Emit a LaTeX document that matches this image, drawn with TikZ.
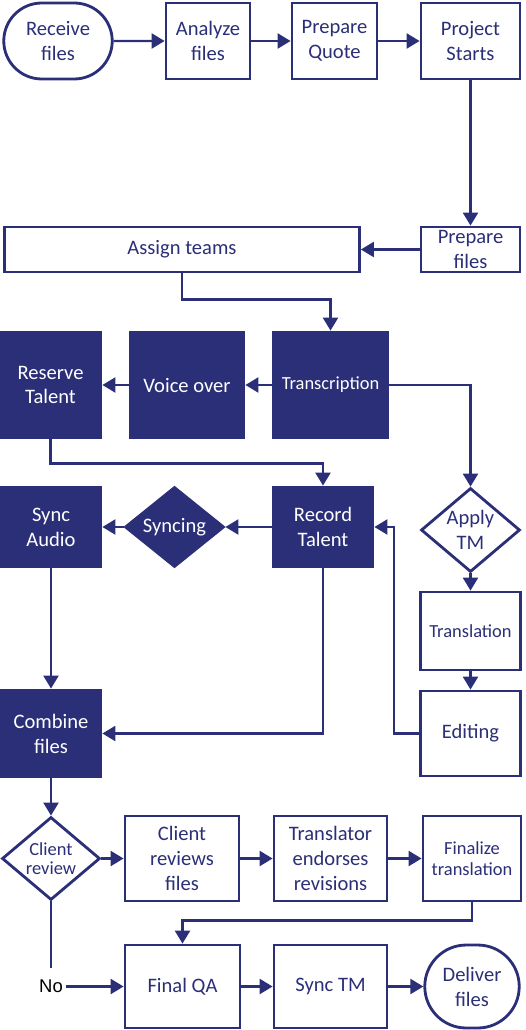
\documentclass[tikz,border=0pt]{standalone}
\usepackage{fontspec}
\setmainfont{Carlito}
\newfontfamily\nofont{Liberation Sans}
\usepackage{tikz}
\usetikzlibrary{arrows.meta,shapes.geometric,shapes.misc,calc}
\definecolor{navy}{RGB}{43,47,119}

\begin{document}
\begin{tikzpicture}
 [x=0.02cm,y=-0.02cm,->,>={Triangle[length=0.26cm,width=0.3cm]},
line width=1.3pt,navy,
box/.style={rectangle,draw=navy,fill=white,text=navy,align=center,line width=1.6pt,
inner sep=1pt,font=\fontsize{11.7}{14.2}\selectfont,minimum height=1.52cm},
term/.style={box,rounded rectangle},
dark/.style={box,fill=navy,text=white},
dec/.style={box,diamond,aspect=1.2,inner sep=0pt},
darkdec/.style={dec,fill=navy,text=white},
small/.style={font=\fontsize{10.5}{12}\selectfont}]
\useasboundingbox (0,0) rectangle (525,1030);

\node (rf) at (58,41) [term,minimum width=2.24cm] {Receive\\files};
\node (af) at (208,41) [box,minimum width=1.68cm] {Analyze\\files};
\node (pq) at (334.5,41) [box,minimum width=1.7cm] {Prepare\\Quote};
\node (ps) at (470.5,41) [box,minimum width=1.98cm] {Project\\Starts};

\node (pf) at (470.5,249.5) [box,minimum width=1.98cm,minimum height=0.9cm,inner ysep=0pt] {Prepare\\files};
\node (at) at (182,249.5) [box,minimum width=7.1cm,minimum height=0.9cm] {Assign teams};

\node (rt) at (50.5,385) [dark,minimum width=2.02cm,minimum height=2.12cm] {Reserve\\Talent};
\node (vo) at (187,385) [dark,minimum width=2.28cm,minimum height=2.12cm] {Voice over};
\node (tr) at (330.5,385) [dark,small,minimum width=2.3cm,minimum height=2.12cm] {Transcription};

\node (sa) at (51,527) [dark,minimum width=2cm,minimum height=1.6cm] {Sync\\Audio};
\node (sy) at (174.5,527) [darkdec,minimum width=1.98cm,minimum height=1.6cm] {Syncing};
\node (rec) at (323,527) [dark,minimum width=2cm,minimum height=1.6cm] {Record\\Talent};
\node (tm) at (470.5,530) [dec,minimum width=1.98cm,minimum height=1.68cm] {Apply\\TM};

\node (tl) at (470.5,631) [box,small,minimum width=2cm,minimum height=1.56cm] {Translation};
\node (ed) at (470.5,733.5) [box,minimum width=2cm,minimum height=1.7cm] {Editing};
\node (cf) at (51,733.5) [dark,minimum width=2cm,minimum height=1.74cm] {Combine\\files};

\node (cr) at (51,858.5) [dec,font=\fontsize{10.5}{10.8}\selectfont,minimum width=1.96cm,minimum height=1.66cm] {Client\\review};
\node (crf) at (182,858.5) [box,minimum width=2.28cm,minimum height=1.7cm] {Client\\reviews\\files};
\node (te) at (330.5,858.5) [box,minimum width=2.26cm,minimum height=1.7cm] {Translator\\endorses\\revisions};
\node (ft) at (472,858.5) [box,small,minimum width=1.96cm,minimum height=1.7cm] {Finalize\\translation};

\node (qa) at (182.5,986.5) [box,minimum width=2.3cm,minimum height=1.66cm] {Final QA};
\node (st) at (330.5,986.5) [box,minimum width=2.26cm,minimum height=1.66cm] {Sync TM};
\node (df) at (472,986.5) [term,minimum width=1.96cm,minimum height=1.66cm] {Deliver\\files};
\node (no) at (51,986.5) [text=black,font=\nofont\fontsize{10.5}{12}\selectfont,inner xsep=1pt,inner ysep=0.22cm] {No};

% top row
\draw (rf) -- (af);
\draw (af) -- (pq);
\draw (pq) -- (ps);
\draw (ps) -- (pf);
\draw (pf) -- (at);
\draw (at.south) -- ++(0,26) -| (tr.north);

% voice over branch
\draw (tr) -- (vo);
\draw (vo) -- (rt);
\draw (rt.south) -- ++(0,24) -| (rec.north);
\draw (rec) -- (sy);
\draw (sy) -- (sa);
\draw (sa) -- (cf);
\draw (rec.south) |- (cf.east);

% translation branch
\draw (tr.east) -| (tm.north);
\draw (tm) -- (tl);
\draw (tl) -- (ed);
\draw (ed.west) -- ++(-25,0) |- (rec.east);

% review
\draw (cf) -- (cr);
\draw (cr) -- (crf);
\draw (crf) -- (te);
\draw (te) -- (ft);
\draw (ft.south) -- ++(0,18) -| (qa.north);
\draw[-] (cr) -- (no);
\draw (no) -- (qa);
\draw (qa) -- (st);
\draw (st) -- (df);
\end{tikzpicture}
\end{document}
